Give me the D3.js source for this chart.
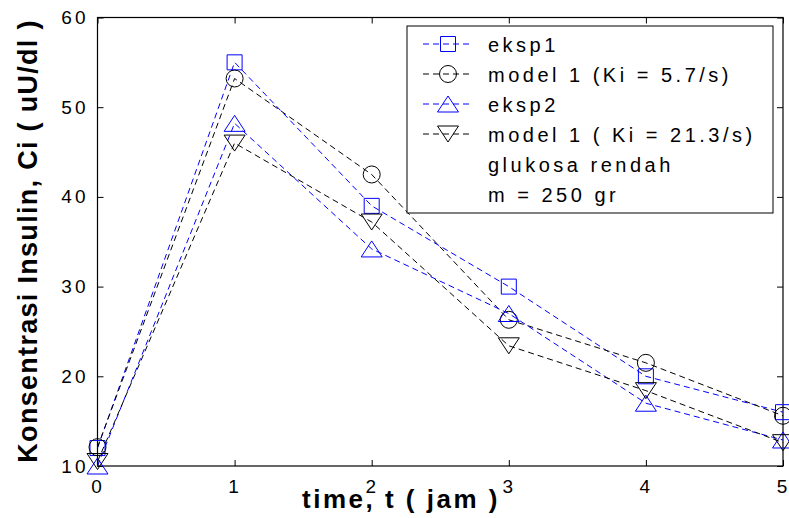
<!DOCTYPE html>
<html>
<head>
<meta charset="utf-8">
<script src="https://cdn.jsdelivr.net/npm/d3@7"></script>
<style>
  html, body { margin: 0; padding: 0; background: #ffffff; }
  svg { display: block; font-family: "Liberation Sans", Arial, sans-serif; }
  .tick-label text { font-size: 19px; letter-spacing: 3px; fill: #000; }
  .axis-title { font-weight: bold; fill: #000; }
  .legend-text { font-size: 20px; letter-spacing: 3.5px; fill: #000; }
</style>
</head>
<body>
<svg id="chart" width="789" height="518"></svg>
<script>
const WIDTH = 789;
const HEIGHT = 518;

// waktu (jam)
const TIMES = [0, 1, 2, 3, 4, 5];

// konsentrasi insulin (uU/dl)
const EKSP1 = [12.0, 55.0, 39.0, 30.0, 20.0, 16.0];
const MODEL_KI57 = [12.1, 53.2, 42.5, 26.3, 21.5, 15.6];
const EKSP2 = [10.0, 48.2, 34.2, 27.0, 17.0, 12.9];
const MODEL_KI213 = [10.5, 46.0, 37.2, 23.4, 18.4, 12.6];

const X_TICKS = [0, 1, 2, 3, 4, 5];
const Y_TICKS = [10, 20, 30, 40, 50, 60];

const SERIES_NAMES = ["eksp1", "model 1 (Ki = 5.7/s)", "eksp2", "model 1 ( Ki = 21.3/s)"];
const NOTE_LINES = ["glukosa rendah", "m = 250 gr"];

const BLUE = "#0000ff";
const BLACK = "#000000";

const series = [
  { name: SERIES_NAMES[0], values: EKSP1, color: BLUE, marker: "square" },
  { name: SERIES_NAMES[1], values: MODEL_KI57, color: BLACK, marker: "circle" },
  { name: SERIES_NAMES[2], values: EKSP2, color: BLUE, marker: "triUp" },
  { name: SERIES_NAMES[3], values: MODEL_KI213, color: BLACK, marker: "triDown" }
];

const plot = { left: 97.5, right: 783, top: 17.5, bottom: 466 };

const x = d3.scaleLinear().domain([0, 5]).range([plot.left, plot.right]);
const y = d3.scaleLinear().domain([10, 60]).range([plot.bottom, plot.top]);

const svg = d3.select("#chart");

// ticks ke dalam di keempat sisi
const axisBottom = d3.axisBottom(x).tickValues(X_TICKS).tickFormat(d3.format("d"))
  .tickSizeInner(-6).tickSizeOuter(0).tickPadding(14);
const axisLeft = d3.axisLeft(y).tickValues(Y_TICKS).tickFormat(d3.format("d"))
  .tickSizeInner(-6).tickSizeOuter(0).tickPadding(9);
const axisTop = d3.axisTop(x).tickValues(X_TICKS).tickFormat("")
  .tickSizeInner(-6).tickSizeOuter(0);
const axisRight = d3.axisRight(y).tickValues(Y_TICKS).tickFormat("")
  .tickSizeInner(-6).tickSizeOuter(0);

function styleAxis(g) {
  g.select(".domain").remove();
  g.selectAll(".tick line").attr("stroke", BLACK).attr("stroke-width", 1);
  g.selectAll(".tick text").attr("font-family", null).attr("font-size", null);
  g.attr("font-family", null).attr("font-size", null);
}

svg.append("g").attr("class", "tick-label")
  .attr("transform", `translate(0,${plot.bottom})`)
  .call(axisBottom).call(styleAxis);
svg.append("g").attr("class", "tick-label")
  .attr("transform", `translate(${plot.left},0)`)
  .call(axisLeft).call(styleAxis);
svg.append("g")
  .attr("transform", `translate(0,${plot.top})`)
  .call(axisTop).call(styleAxis);
svg.append("g")
  .attr("transform", `translate(${plot.right},0)`)
  .call(axisRight).call(styleAxis);

svg.append("rect")
  .attr("x", plot.left)
  .attr("y", plot.top)
  .attr("width", plot.right - plot.left)
  .attr("height", plot.bottom - plot.top)
  .attr("fill", "none")
  .attr("stroke", BLACK)
  .attr("stroke-width", 1.2);

function markerPath(type) {
  if (type === "square") return "M-7.5,-7.5H7.5V7.5H-7.5Z";
  if (type === "triUp") return "M0,-8L10.5,8H-10.5Z";
  if (type === "triDown") return "M0,8L10.5,-8H-10.5Z";
  return null;
}

function drawMarker(g, type, color) {
  if (type === "circle") {
    g.append("circle").attr("r", 8.5)
      .attr("fill", "none").attr("stroke", color).attr("stroke-width", 1);
  } else {
    g.append("path").attr("d", markerPath(type))
      .attr("fill", "none").attr("stroke", color).attr("stroke-width", 1);
  }
}

const line = d3.line()
  .x((d) => x(d.t))
  .y((d) => y(d.v));

const seriesLayer = svg.append("g").attr("class", "series");

series.forEach((s) => {
  const pts = TIMES.map((t, i) => ({ t, v: s.values[i] }));
  seriesLayer.append("path")
    .datum(pts)
    .attr("d", line)
    .attr("fill", "none")
    .attr("stroke", s.color)
    .attr("stroke-width", 1)
    .attr("stroke-dasharray", "6,4");

  pts.forEach((p) => {
    const g = seriesLayer.append("g")
      .attr("transform", `translate(${x(p.t)},${y(p.v)})`);
    drawMarker(g, s.marker, s.color);
  });
});

// legenda
const legend = svg.append("g").attr("class", "legend");
legend.append("rect")
  .attr("x", 407)
  .attr("y", 26)
  .attr("width", 366)
  .attr("height", 187)
  .attr("fill", "#ffffff")
  .attr("stroke", BLACK)
  .attr("stroke-width", 1);

const rowY = (i) => 44 + i * 30;

series.forEach((s, i) => {
  const cy = rowY(i);
  legend.append("line")
    .attr("x1", 423).attr("x2", 472)
    .attr("y1", cy).attr("y2", cy)
    .attr("stroke", s.color)
    .attr("stroke-width", 1)
    .attr("stroke-dasharray", "6,4");
  const g = legend.append("g").attr("transform", `translate(448,${cy})`);
  drawMarker(g, s.marker, s.color);
  legend.append("text")
    .attr("class", "legend-text")
    .attr("x", 488)
    .attr("y", cy + 7.5)
    .text(s.name);
});

NOTE_LINES.forEach((txt, j) => {
  legend.append("text")
    .attr("class", "legend-text")
    .attr("x", 488)
    .attr("y", rowY(4 + j) + 7.5)
    .text(txt);
});

svg.append("text")
  .attr("class", "axis-title")
  .attr("x", 401)
  .attr("y", 508)
  .attr("text-anchor", "middle")
  .style("font-size", "26px")
  .style("letter-spacing", "2.5px")
  .text("time, t ( jam )");

svg.append("text")
  .attr("class", "axis-title")
  .attr("transform", "translate(37,241) rotate(-90)")
  .attr("text-anchor", "middle")
  .style("font-size", "27px")
  .style("letter-spacing", "1.3px")
  .text("Konsentrasi Insulin, Ci ( uU/dl )");
</script>
</body>
</html>
